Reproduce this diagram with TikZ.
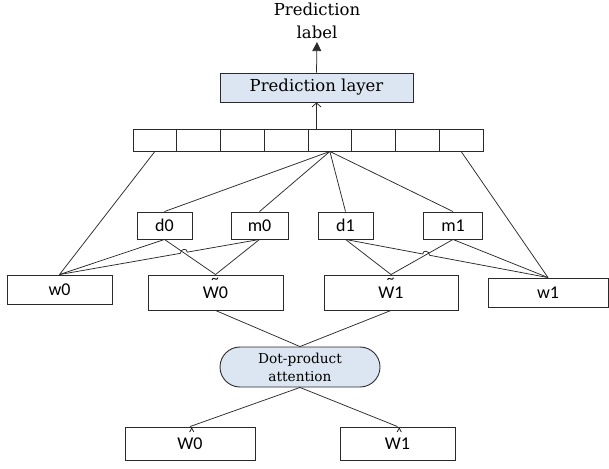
\documentclass[tikz,border=0pt]{standalone}
\usepackage{fontspec}
\newfontfamily\calib{Carlito}
\newfontfamily\serf{DejaVu Serif}
\usetikzlibrary{arrows.meta,intersections,calc}
\definecolor{lb}{HTML}{DCE6F2}
\definecolor{ln}{HTML}{2A2A2A}
\newcommand\tilW{\makebox[0pt][l]{\hspace{8.5pt}\raisebox{14.5pt}[0pt][0pt]{\fontsize{15}{15}\selectfont\char"7E}}W}
\newcommand\hatW{\makebox[0pt][l]{\hspace{11.5pt}\raisebox{13pt}[0pt][0pt]{\fontsize{12}{12}\selectfont\char"5E}}W}
\tikzset{
  box/.style={draw=ln, line width=0.9pt, fill=white, inner sep=0pt,
    font=\calib\fontsize{18}{20}\selectfont},
  cellbox/.style={draw=ln, line width=0.9pt, fill=white, inner sep=0pt,
    minimum width=43.75pt, minimum height=22pt},
  conn/.style={draw=ln, line width=0.75pt},
}
\begin{document}
\begin{tikzpicture}[x=1pt,y=-1pt]
\useasboundingbox (0,0) rectangle (609,468);

% top
\node[inner sep=0pt, align=center, font=\serf\fontsize{16.5}{23}\selectfont] (plabel) at (317,21) {Prediction\\label};
\node[box, fill=lb, minimum width=193pt, minimum height=29pt,
  font=\serf\fontsize{16.5}{20}\selectfont] (layer) at (316.5,87.5) {Prediction layer};

% vector cells
\foreach \i in {1,...,8}
  \node[cellbox] (c\i) at ({133+43.75*(\i-0.5)},140) {};

% middle boxes
\node[box, minimum width=55pt, minimum height=27pt] (d0) at (164.5,225.5) {d0};
\node[box, minimum width=57pt, minimum height=27pt] (m0) at (259.5,225.5) {m0};
\node[box, minimum width=55pt, minimum height=27pt] (d1) at (345.5,225.5) {d1};
\node[box, minimum width=59pt, minimum height=27pt] (m1) at (453,225.5) {m1};

\node[box, minimum width=105pt, minimum height=29pt] (w0) at (59.5,289.5) {w0};
\node[box, minimum width=135pt, minimum height=35pt] (t0) at (215.5,292.5) {\tilW0};
\node[box, minimum width=134pt, minimum height=35pt] (t1) at (391,292.5) {\tilW1};
\node[box, minimum width=120pt, minimum height=29pt] (w1) at (548,292.5) {w1};

\node[box, fill=lb, rounded corners=20pt, minimum width=160pt, minimum height=40pt,
  align=center, font=\serf\fontsize{13.7}{18}\selectfont] (att) at (300,367) {Dot-product\\attention};

\node[box, minimum width=130pt, minimum height=33pt] (h0) at (190,443.5) {\hatW0};
\node[box, minimum width=115pt, minimum height=33pt] (h1) at (397.5,443.5) {\hatW1};

% arrows
\draw[conn, -{Triangle[length=9pt,width=9pt]}, shorten >=3pt] (layer.north) -- (plabel.south);
\draw[conn, -{Straight Barb[length=4pt,width=9pt]}] (layer.south |- c5.north) -- (layer.south);

% vector to boxes
\draw[conn] (c1.south) -- (w0.north);
\draw[conn] (c8.south) -- (w1.north);
\foreach \n in {d0,m0,d1,m1}
  \draw[conn] (c5.south) -- (\n.north);

% left group
\draw[conn, name path=pA] (d0.south) -- (t0.north);
\draw[conn] (d0.south) -- (w0.north);
\draw[conn] (m0.south) -- (t0.north);
\path[name path=pB] (m0.south) -- (w0.north);
\path[name intersections={of=pA and pB, by=X1}];
\coordinate (X1a) at ($(X1)!3.5pt!(m0.south)$);
\coordinate (X1b) at ($(X1)!3.5pt!(w0.north)$);
\draw[conn] (m0.south) -- (X1a) .. controls ($(X1a)+(0,-4.5)$) and ($(X1b)+(0,-4.5)$) .. (X1b) -- (w0.north);

% right group
\draw[conn, name path=pC] (m1.south) -- (t1.north);
\draw[conn] (d1.south) -- (t1.north);
\draw[conn] (m1.south) -- (w1.north);
\path[name path=pD] (d1.south) -- (w1.north);
\path[name intersections={of=pC and pD, by=X2}];
\coordinate (X2a) at ($(X2)!3.5pt!(d1.south)$);
\coordinate (X2b) at ($(X2)!3.5pt!(w1.north)$);
\draw[conn] (d1.south) -- (X2a) .. controls ($(X2a)+(0,-4.5)$) and ($(X2b)+(0,-4.5)$) .. (X2b) -- (w1.north);

% attention
\draw[conn] (t0.south) -- (att.north);
\draw[conn] (t1.south) -- (att.north);
\draw[conn] (att.south) -- (h0.north);
\draw[conn] (att.south) -- (h1.north);
\end{tikzpicture}
\end{document}
